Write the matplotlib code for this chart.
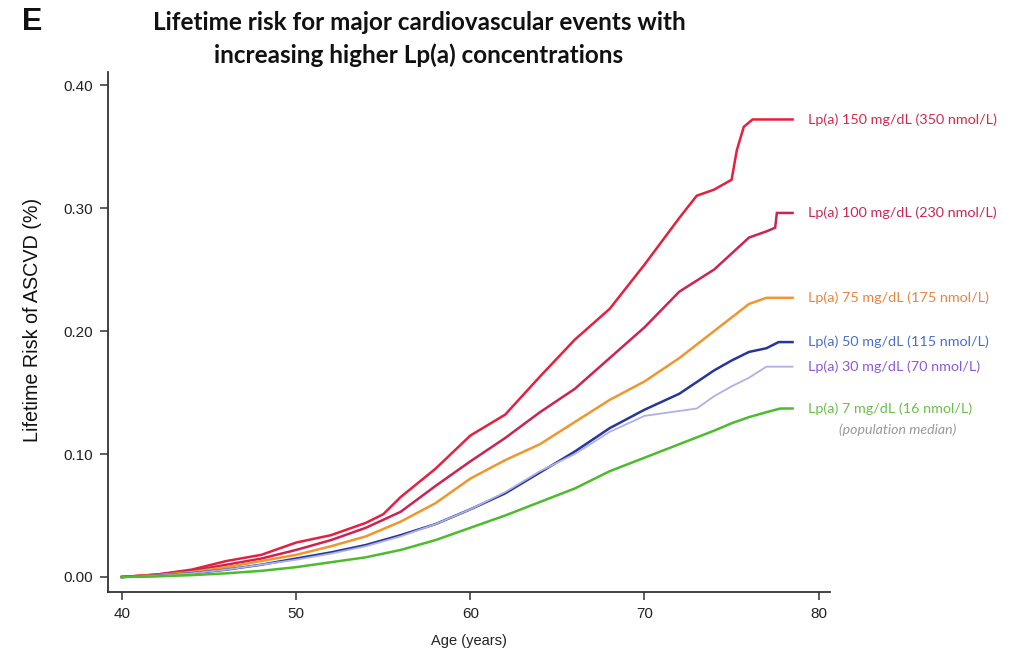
import matplotlib
matplotlib.use("Agg")
import matplotlib.pyplot as plt

# ---- data ----
age_150 = [40, 42, 44, 46, 48, 50, 52, 54, 55, 56, 58, 60, 62, 64, 66, 68, 70, 72, 73, 74, 75, 75.3, 75.7, 76.2, 78.5]
risk_150 = [0, 0.002, 0.006, 0.013, 0.018, 0.028, 0.034, 0.044, 0.051, 0.065, 0.088, 0.115, 0.132, 0.163, 0.193,
            0.218, 0.254, 0.292, 0.310, 0.315, 0.323, 0.347, 0.366, 0.372, 0.372]

age_100 = [40, 42, 44, 46, 48, 50, 52, 54, 56, 58, 60, 62, 64, 66, 68, 70, 72, 74, 75, 76, 77, 77.5, 77.6, 78.5]
risk_100 = [0, 0.002, 0.005, 0.010, 0.015, 0.022, 0.030, 0.040, 0.053, 0.074, 0.094, 0.113, 0.134, 0.153, 0.178,
            0.203, 0.232, 0.250, 0.263, 0.276, 0.281, 0.284, 0.296, 0.296]

age_75 = [40, 42, 44, 46, 48, 50, 52, 54, 56, 58, 60, 62, 64, 66, 68, 70, 72, 74, 75, 76, 77, 78.5]
risk_75 = [0, 0.0015, 0.004, 0.008, 0.013, 0.018, 0.025, 0.033, 0.045, 0.060, 0.080, 0.095, 0.108, 0.126, 0.144,
           0.159, 0.178, 0.200, 0.211, 0.222, 0.227, 0.227]

age_50 = [40, 42, 44, 46, 48, 50, 52, 54, 56, 58, 60, 62, 64, 66, 68, 70, 72, 74, 75, 76, 77, 77.7, 78.5]
risk_50 = [0, 0.001, 0.003, 0.006, 0.010, 0.015, 0.020, 0.026, 0.034, 0.043, 0.055, 0.068, 0.085, 0.102, 0.121,
           0.136, 0.149, 0.168, 0.176, 0.183, 0.186, 0.191, 0.191]

age_30 = [40, 42, 44, 46, 48, 50, 52, 54, 56, 58, 60, 62, 64, 66, 68, 70, 72, 73, 74, 75, 76, 77, 78.5]
risk_30 = [0, 0.001, 0.003, 0.006, 0.010, 0.014, 0.019, 0.025, 0.033, 0.043, 0.055, 0.069, 0.086, 0.100, 0.118,
           0.131, 0.135, 0.137, 0.147, 0.155, 0.162, 0.171, 0.171]

age_7 = [40, 42, 44, 46, 48, 50, 52, 54, 56, 58, 60, 62, 64, 66, 68, 70, 72, 74, 75, 76, 77, 77.8, 78.5]
risk_7 = [0, 0.0005, 0.0015, 0.003, 0.005, 0.008, 0.012, 0.016, 0.022, 0.030, 0.040, 0.050, 0.061, 0.072, 0.086,
          0.097, 0.108, 0.119, 0.125, 0.130, 0.134, 0.137, 0.137]

labels = ["Lp(a) 150 mg/dL (350 nmol/L)", "Lp(a) 100 mg/dL (230 nmol/L)", "Lp(a) 75 mg/dL (175 nmol/L)",
          "Lp(a) 50 mg/dL (115 nmol/L)", "Lp(a) 30 mg/dL (70 nmol/L)", "Lp(a) 7 mg/dL (16 nmol/L)"]
median_note = "(population median)"
x_ticks = [40, 50, 60, 70, 80]
y_ticks = [0.0, 0.1, 0.2, 0.3, 0.4]
y_ticklabels = ["0.00", "0.10", "0.20", "0.30", "0.40"]

series = [(age_150, risk_150), (age_100, risk_100), (age_75, risk_75),
          (age_50, risk_50), (age_30, risk_30), (age_7, risk_7)]
line_colors = ["#e5203f", "#cc2352", "#f0962e", "#25379a", "#aeb0e6", "#4cbc2c"]
label_colors = ["#d12a4f", "#c92654", "#e8843f", "#4a6fc8", "#8d5ad6", "#6cc04a"]
line_widths = [1.8, 1.8, 1.8, 1.8, 1.3, 1.8]

fig = plt.figure(figsize=(10.16, 6.58), dpi=100)
ax = fig.add_axes([108/1016, 1-592/658, (830-108)/1016, (592-72)/658])

for (a, r), c, lw in zip(series, line_colors, line_widths):
    ax.plot(a, r, color=c, lw=lw, solid_joinstyle="miter")

ax.set_xlim(39.2, 80.65)
ax.set_ylim(-0.0122, 0.4106)
ax.set_xticks(x_ticks)
ax.set_yticks(y_ticks)
ax.set_yticklabels(y_ticklabels)
for s in ["top", "right"]:
    ax.spines[s].set_visible(False)
for s in ["left", "bottom"]:
    ax.spines[s].set_color("#333333")
    ax.spines[s].set_linewidth(1.3)
ax.tick_params(direction="out", length=6, width=1.1, color="#333333",
               labelsize=11, labelcolor="#222222", pad=5)
for t in ax.get_xticklabels() + ax.get_yticklabels():
    t.set_fontfamily("Liberation Sans")

ax.set_xlabel("Age (years)", fontsize=10.5, family="Liberation Sans", color="#222222", labelpad=9)
ax.set_ylabel("Lifetime Risk of ASCVD (%)", fontsize=14.2, family="Liberation Sans", color="#111111",
              va="center")
ax.yaxis.set_label_coords(-0.104, 0.523)

# right-hand labels
for (a, r), lab, c in zip(series, labels, label_colors):
    ax.annotate(lab, xy=(a[-1], r[-1]), xytext=(11, 0), textcoords="offset points",
                va="center", ha="left", fontsize=10.4, color=c, family="Lato", annotation_clip=False)
ax.annotate(median_note, xy=(age_7[-1], risk_7[-1]), xytext=(76, -15), textcoords="offset points",
            va="center", ha="center", fontsize=10.2, color="#999999", style="italic", family="Lato",
            annotation_clip=False)

fig.text(419/1016, 1-22/658, "Lifetime risk for major cardiovascular events with", ha="center", va="center",
         fontsize=17.5, fontweight="bold", family="Lato", color="#111111")
fig.text(419/1016, 1-55/658, "increasing higher Lp(a) concentrations", ha="center", va="center",
         fontsize=17.5, fontweight="bold", family="Lato", color="#111111")
fig.text(22/1016, 1-22/658, "E", ha="left", va="center", fontsize=22, fontweight="bold",
         family="Liberation Sans", color="#111111")

fig.savefig("out.png", dpi=100)
